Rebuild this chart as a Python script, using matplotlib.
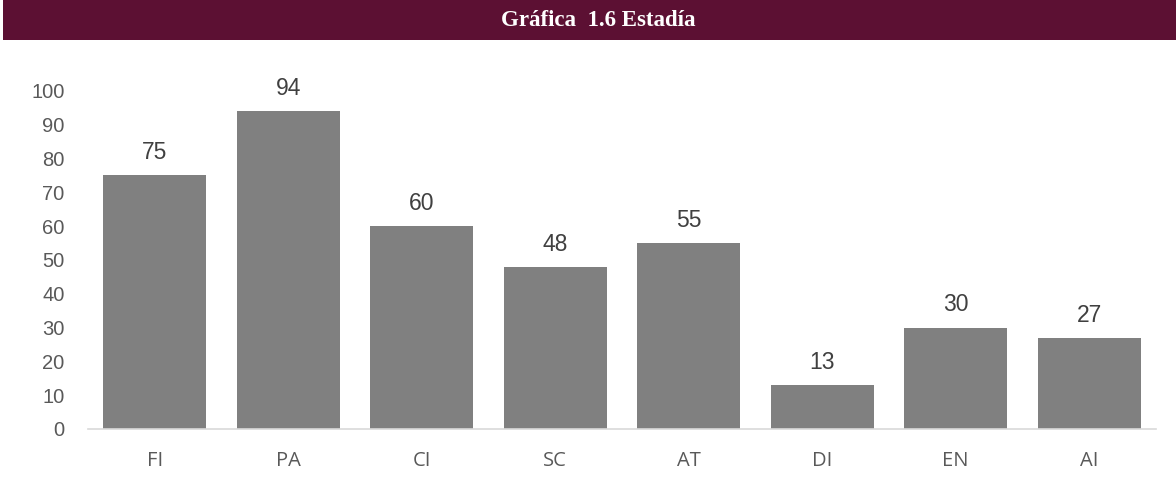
import matplotlib
matplotlib.use("Agg")
import matplotlib.pyplot as plt
from matplotlib.patches import Rectangle

categories = ["FI", "PA", "CI", "SC", "AT", "DI", "EN", "AI"]
values = [75, 94, 60, 48, 55, 13, 30, 27]
yticks = [0, 10, 20, 30, 40, 50, 60, 70, 80, 90, 100]
title = "Gráfica  1.6 Estadía"

fig = plt.figure(figsize=(11.76, 5.0), dpi=100)
fig.patches.append(Rectangle((3/1176, 1-40/500), 1-3/1176, 40/500, transform=fig.transFigure,
                             facecolor="#5C1033", edgecolor="none", zorder=0))
fig.text(0.509, 1-21/500, title, ha="center", va="center", color="white",
         fontsize=16.5, fontweight="bold", family="Liberation Serif")

ax = fig.add_axes([88/1176, 1-429/500, (1156-88)/1176, (429-91)/500])
x = range(len(categories))
bars = ax.bar(x, values, width=0.77, color="#808080", zorder=2)
for xi, v in zip(x, values):
    ax.annotate(str(v), (xi, v), xytext=(0, 8), textcoords="offset points",
                ha="center", va="bottom", fontsize=16.5, color="#404040", family="Liberation Sans")
ax.set_xlim(-0.5, len(categories) - 0.5)
ax.set_ylim(0, 100)
ax.set_yticks(yticks)
ax.set_yticklabels([str(t) for t in yticks], fontsize=14.5, color="#595959", family="Liberation Sans")
ax.set_xticks(list(x))
ax.set_xticklabels(categories, fontsize=14.5, color="#595959", family="Open Sans")
ax.tick_params(axis="both", length=0)
ax.tick_params(axis="y", pad=17)
ax.tick_params(axis="x", pad=16)
for s in ["top", "right", "left"]:
    ax.spines[s].set_visible(False)
ax.spines["bottom"].set_color("#D9D9D9")
ax.spines["bottom"].set_linewidth(1.2)
fig.savefig("out.png", dpi=100)
